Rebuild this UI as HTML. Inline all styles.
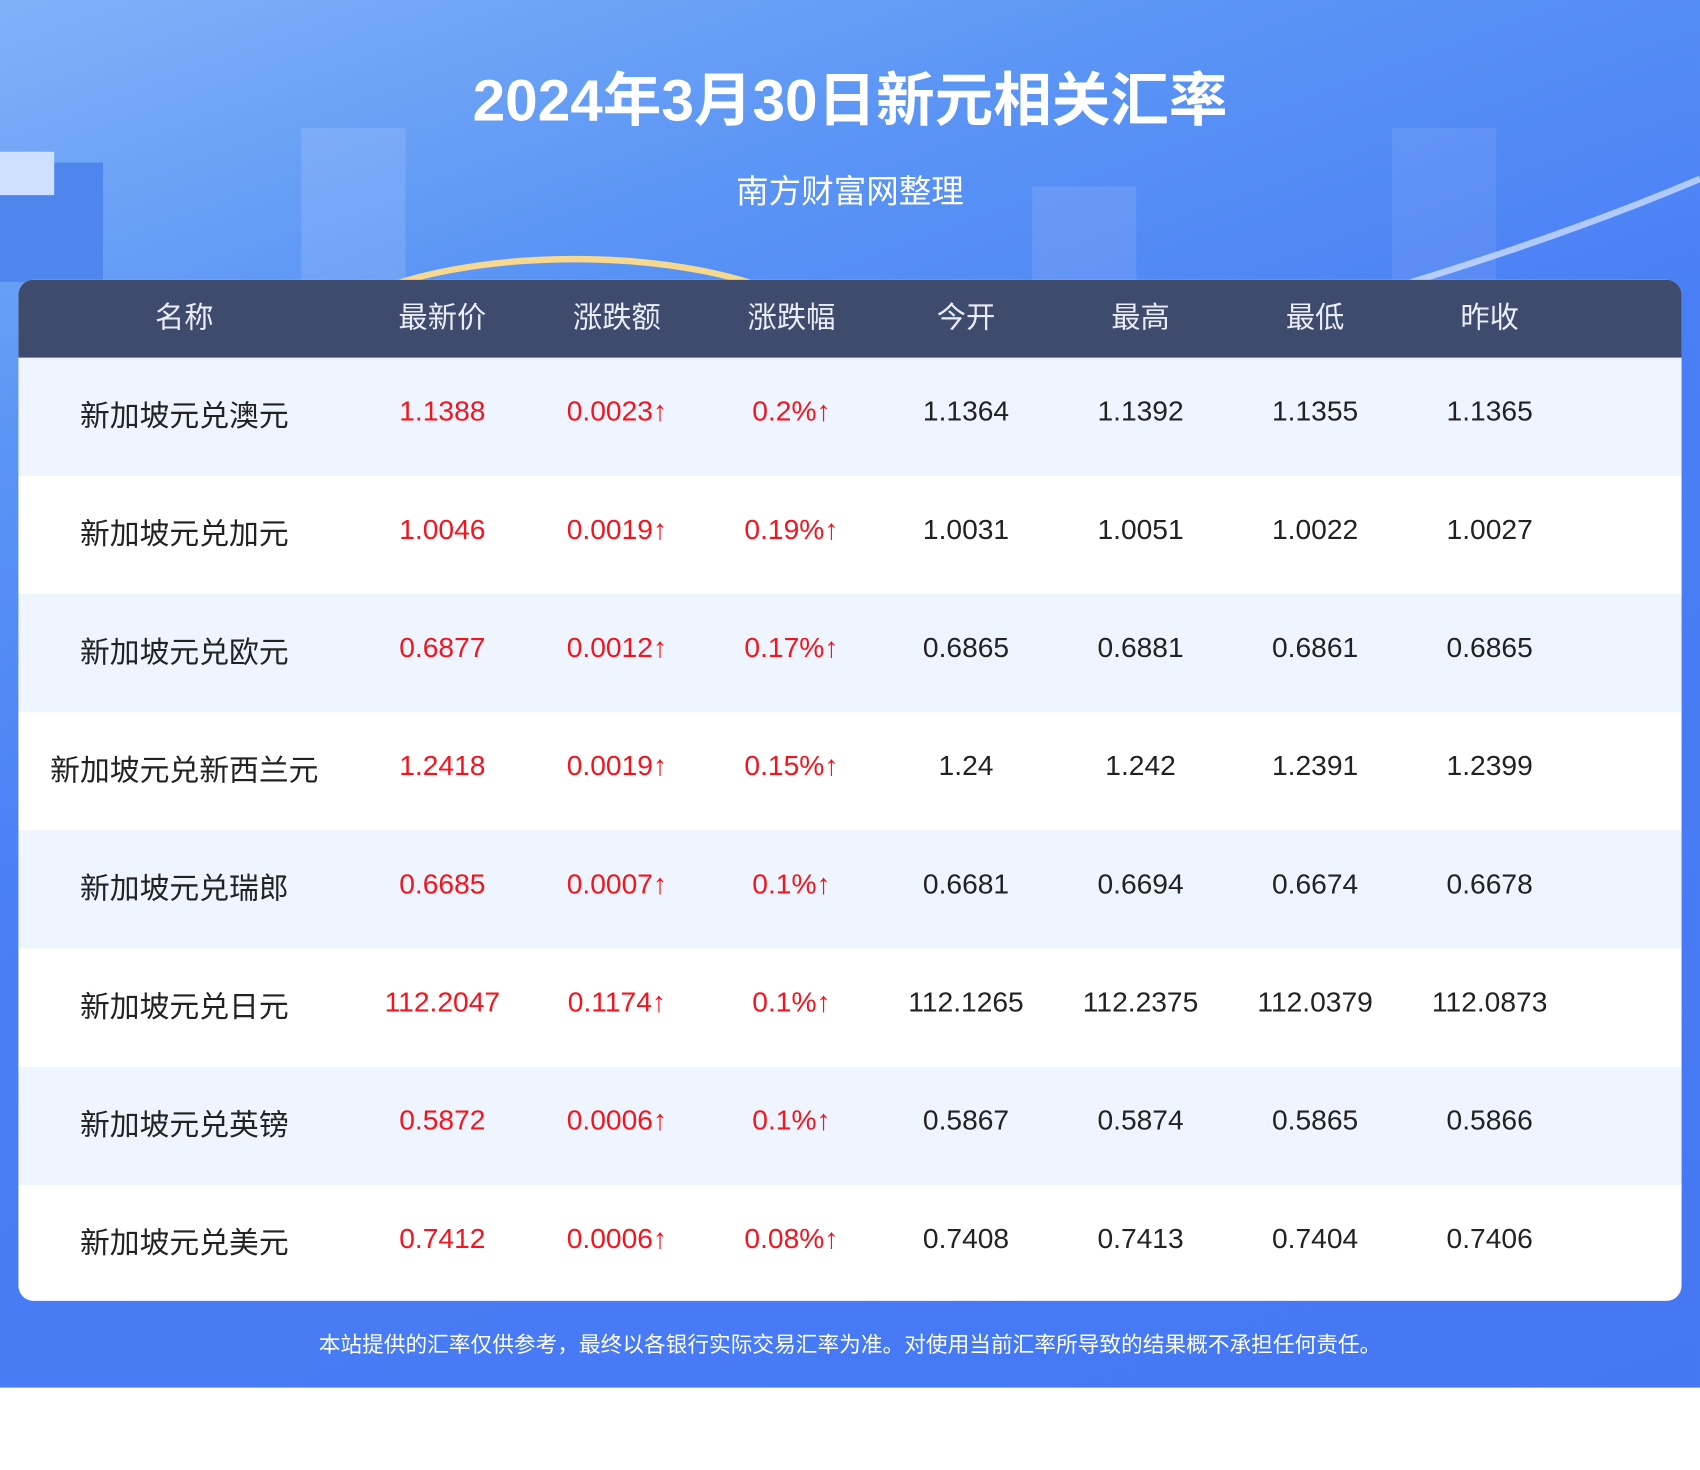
<!DOCTYPE html>
<html><head><meta charset="utf-8"><style>
html,body{margin:0;padding:0;background:#fff;width:1700px;height:1470px;overflow:hidden}
#w{position:absolute;left:0;top:0;width:1568px;height:1356px;transform:scale(1.08418,1.08407);transform-origin:0 0;font-family:"Liberation Sans","Noto Sans CJK SC",sans-serif}
#bg{position:absolute;left:0;top:0;width:1568px;height:1280px;background:linear-gradient(160deg,#7fb2f8 0%,#5b95f5 22%,#4a7ff5 45%,#4577f3 100%);overflow:hidden}
.t{position:absolute;left:0;width:1568px;text-align:center;color:#fff}
.card{position:absolute;left:17px;top:258px;width:1534px;height:942px;background:#fff;border-radius:14px;overflow:hidden}
.hd{position:absolute;left:0;top:0;width:1534px;height:72px;background:#3e4b6d}
.row{position:absolute;left:0;width:1534px;height:109px}
.c{position:absolute;width:160px;margin-left:-80px;text-align:center;font-size:26px;white-space:nowrap}
</style></head><body><div id="w">
<div id="bg">
<div style="position:absolute;left:278px;top:118px;width:96px;height:200px;background:rgba(255,255,255,.12)"></div>
<div style="position:absolute;left:952px;top:172px;width:96px;height:150px;background:rgba(255,255,255,.1)"></div>
<div style="position:absolute;left:1284px;top:118px;width:96px;height:200px;background:rgba(255,255,255,.08)"></div>
<div style="position:absolute;left:0;top:150px;width:95px;height:110px;background:#4f86ee"></div>
<div style="position:absolute;left:0;top:140px;width:50px;height:40px;background:#cfe0ff"></div>
<div style="position:absolute;left:270px;top:236px;width:520px;height:200px;border-radius:50%;border:6px solid #f6d98f;box-sizing:border-box"></div>
<svg style="position:absolute;left:0;top:0" width="1568" height="300"><path d="M1290 264 Q1450 215 1568 165" stroke="rgba(230,240,255,.65)" stroke-width="6" fill="none"/></svg>
</div>
<div class="t" style="top:48px;font-size:54px;font-weight:bold">2024年3月30日新元相关汇率</div>
<div class="t" style="top:152px;font-size:30px">南方财富网整理</div>
<div class="card">
<div class="hd"></div>
<div class="row" style="top:72px;background:#eef5fe"></div>
<div class="row" style="top:290px;background:#eef5fe"></div>
<div class="row" style="top:508px;background:#eef5fe"></div>
<div class="row" style="top:726px;background:#eef5fe"></div>
</div>
<div id="cells"></div>
<div class="t" style="top:1224px;font-size:20px">本站提供的汇率仅供参考，最终以各银行实际交易汇率为准。对使用当前汇率所导致的结果概不承担任何责任。</div>
</div>
<script>
var X=[170,408,569,730,891,1052,1213,1374];
var H=["名称","最新价","涨跌额","涨跌幅","今开","最高","最低","昨收"];
var D=[["新加坡元兑澳元","1.1388","0.0023↑","0.2%↑","1.1364","1.1392","1.1355","1.1365"],
["新加坡元兑加元","1.0046","0.0019↑","0.19%↑","1.0031","1.0051","1.0022","1.0027"],
["新加坡元兑欧元","0.6877","0.0012↑","0.17%↑","0.6865","0.6881","0.6861","0.6865"],
["新加坡元兑新西兰元","1.2418","0.0019↑","0.15%↑","1.24","1.242","1.2391","1.2399"],
["新加坡元兑瑞郎","0.6685","0.0007↑","0.1%↑","0.6681","0.6694","0.6674","0.6678"],
["新加坡元兑日元","112.2047","0.1174↑","0.1%↑","112.1265","112.2375","112.0379","112.0873"],
["新加坡元兑英镑","0.5872","0.0006↑","0.1%↑","0.5867","0.5874","0.5865","0.5866"],
["新加坡元兑美元","0.7412","0.0006↑","0.08%↑","0.7408","0.7413","0.7404","0.7406"]];
var h="";
for(var i=0;i<8;i++)h+='<div class="c" style="left:'+X[i]+'px;top:271px;color:#e9edf6;width:200px;margin-left:-100px;font-size:27px">'+H[i]+'</div>';
for(var r=0;r<8;r++)for(var i=0;i<8;i++){var y=364+r*109;var st=i==0?'top:'+(y-3)+'px;font-size:27.5px;':'top:'+y+'px;';h+='<div class="c" style="left:'+X[i]+'px;'+st+'color:'+(i>=1&&i<=3?'#f4141e':'#222')+';width:280px;margin-left:-140px">'+D[r][i]+'</div>';}
document.getElementById('cells').innerHTML=h;
</script>
</body></html>
